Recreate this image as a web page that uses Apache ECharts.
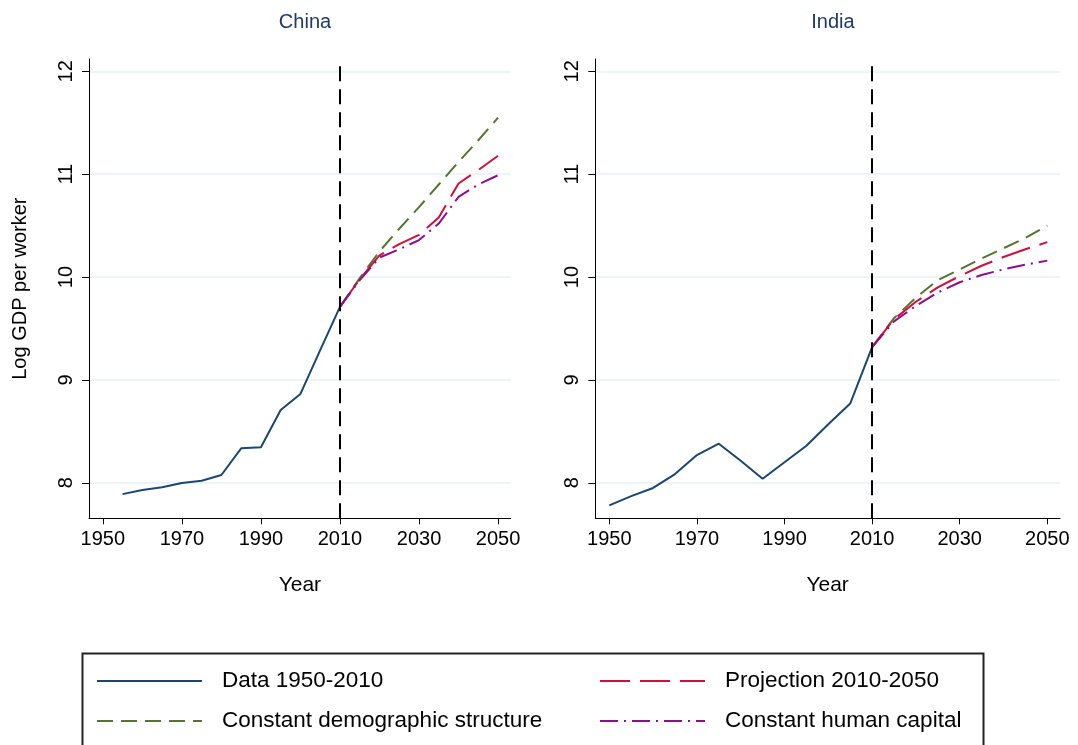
<!DOCTYPE html>
<html>
<head>
<meta charset="utf-8">
<script src="https://cdn.jsdelivr.net/npm/echarts@6/dist/echarts.min.js"></script>
<style>html,body{margin:0;padding:0;background:#fff}#c{width:1078px;height:745px}</style>
</head>
<body>
<div id="c"></div>
<script>
// ---- data ----
const chinaDataYears = [1955, 1960, 1965, 1970, 1975, 1980, 1985, 1990, 1995, 2000, 2005, 2010];
const chinaDataVals  = [7.89, 7.93, 7.956, 7.998, 8.02, 8.076, 8.335, 8.345, 8.708, 8.864, 9.29, 9.71];
const projYears = [2010, 2015, 2020, 2025, 2030, 2035, 2040, 2045, 2050];
const chinaDemo  = [9.71, 9.99, 10.25, 10.47, 10.68, 10.90, 11.12, 11.33, 11.55];
const chinaProj  = [9.71, 9.98, 10.21, 10.32, 10.41, 10.58, 10.91, 11.04, 11.18];
const chinaHC    = [9.71, 9.97, 10.19, 10.27, 10.36, 10.52, 10.78, 10.90, 10.99];

const indiaDataYears = [1950, 1955, 1960, 1965, 1970, 1975, 1980, 1985, 1990, 1995, 2000, 2005, 2010];
const indiaDataVals  = [7.78, 7.87, 7.95, 8.085, 8.27, 8.38, 8.214, 8.04, 8.2, 8.36, 8.57, 8.77, 9.32];
const indiaDemo  = [9.32, 9.60, 9.80, 9.97, 10.075, 10.18, 10.28, 10.38, 10.50];
const indiaProj  = [9.32, 9.59, 9.76, 9.90, 10.01, 10.11, 10.195, 10.27, 10.34];
const indiaHC    = [9.32, 9.57, 9.72, 9.85, 9.95, 10.02, 10.075, 10.12, 10.16];

const xTicks = [1950, 1970, 1990, 2010, 2030, 2050];
const yTicks = [8, 9, 10, 11, 12];
const panelTitles = ['China', 'India'];
const seriesNames = ['Data 1950-2010', 'Projection 2010-2050', 'Constant demographic structure', 'Constant human capital'];
const yAxisTitle = 'Log GDP per worker';
const xAxisTitle = 'Year';
const cutYear = 2010;

// ---- styles ----
const FONT = '"Liberation Sans", Arial, sans-serif';
const C_DATA = '#1a476f', C_DEMO = '#55752f', C_PROJ = '#d0103a', C_HC = '#8f0b8f';
const pair = (xs, ys) => xs.map((x, i) => [x, ys[i]]);

function xAxis(idx) {
  return {
    gridIndex: idx, type: 'value', min: idx === 0 ? 1946.5 : 1946.8, max: idx === 0 ? 2053.2 : 2052.9,
    name: xAxisTitle, nameLocation: 'middle', nameGap: 56,
    nameTextStyle: { fontFamily: FONT, fontSize: 21, color: '#000' },
    axisLine: { show: true, onZero: false, lineStyle: { color: '#000', width: 1 } },
    axisTick: { show: true, length: 6, customValues: xTicks, lineStyle: { color: '#000' } },
    axisLabel: { customValues: xTicks, fontFamily: FONT, fontSize: 20, color: '#000', margin: 11, formatter: v => String(v) },
    splitLine: { show: false }
  };
}
function yAxis(idx) {
  return {
    gridIndex: idx, type: 'value', min: 7.655, max: 12.12,
    name: idx === 0 ? yAxisTitle : '', nameLocation: 'middle', nameGap: 59,
    nameTextStyle: { fontFamily: FONT, fontSize: 20, color: '#000' },
    axisLine: { show: true, onZero: false, lineStyle: { color: '#000', width: 1 } },
    axisTick: { show: true, length: 7, customValues: yTicks, lineStyle: { color: '#000' } },
    axisLabel: { customValues: yTicks, rotate: 90, fontFamily: FONT, fontSize: 20, color: '#000', margin: 13, formatter: v => String(v) },
    splitLine: { show: true, lineStyle: { color: '#e8f0f2', width: 1.5 } }
  };
}
function line(name, idx, data, color, type, withMark) {
  const s = {
    name, type: 'line', xAxisIndex: idx, yAxisIndex: idx, data, symbol: 'none', z: 3,
    lineStyle: { color, width: 2, type }, itemStyle: { color }, animation: false
  };
  if (withMark) {
    s.markLine = {
      silent: true, symbol: 'none', label: { show: false },
      lineStyle: { color: '#000', width: 2, type: [15, 8] },
      data: [{ xAxis: cutYear }]
    };
  }
  return s;
}

const chart = echarts.init(document.getElementById('c'));
const legendBase = (name, left, top) => ({
  data: [name], left, top, itemWidth: 105, itemHeight: 14, orient: 'horizontal',
  padding: 0, itemGap: 0, itemStyle: { opacity: 0 },
  textStyle: { fontFamily: FONT, fontSize: 22.5, lineHeight: 24, color: '#000', padding: [0, 0, 0, 15] },
  selectedMode: false
});
chart.setOption({
  animation: false,
  backgroundColor: '#fff',
  title: [
    { text: panelTitles[0], left: 300, top: 7, textAlign: 'center', textStyle: { fontFamily: FONT, fontSize: 20, fontWeight: 'normal', color: '#1f3a68' } },
    { text: panelTitles[1], left: 828, top: 7, textAlign: 'center', textStyle: { fontFamily: FONT, fontSize: 20, fontWeight: 'normal', color: '#1f3a68' } }
  ],
  grid: [
    { left: 89, right: 1078 - 510.7, top: 59, bottom: 745 - 518.3, containLabel: false },
    { left: 595.3, right: 1078 - 1060, top: 59, bottom: 745 - 518.3, containLabel: false }
  ],
  xAxis: [xAxis(0), xAxis(1)],
  yAxis: [yAxis(0), yAxis(1)],
  legend: [
    legendBase(seriesNames[0], 96, 669),
    legendBase(seriesNames[2], 96, 709),
    legendBase(seriesNames[1], 599, 669),
    legendBase(seriesNames[3], 599, 709)
  ],
  graphic: [{
    type: 'rect', shape: { x: 82.5, y: 653.5, width: 901, height: 120 },
    style: { fill: 'none', stroke: '#222', lineWidth: 2 }, silent: true
  }],
  series: [
    line(seriesNames[0], 0, pair(chinaDataYears, chinaDataVals), C_DATA, 'solid', true),
    line(seriesNames[2], 0, pair(projYears, chinaDemo), C_DEMO, [16, 8]),
    line(seriesNames[1], 0, pair(projYears, chinaProj), C_PROJ, [30, 10]),
    line(seriesNames[3], 0, pair(projYears, chinaHC), C_HC, [18, 6, 2, 6]),
    line(seriesNames[0], 1, pair(indiaDataYears, indiaDataVals), C_DATA, 'solid', true),
    line(seriesNames[2], 1, pair(projYears, indiaDemo), C_DEMO, [16, 8]),
    line(seriesNames[1], 1, pair(projYears, indiaProj), C_PROJ, [30, 10]),
    line(seriesNames[3], 1, pair(projYears, indiaHC), C_HC, [18, 6, 2, 6])
  ]
});
</script>
</body>
</html>
